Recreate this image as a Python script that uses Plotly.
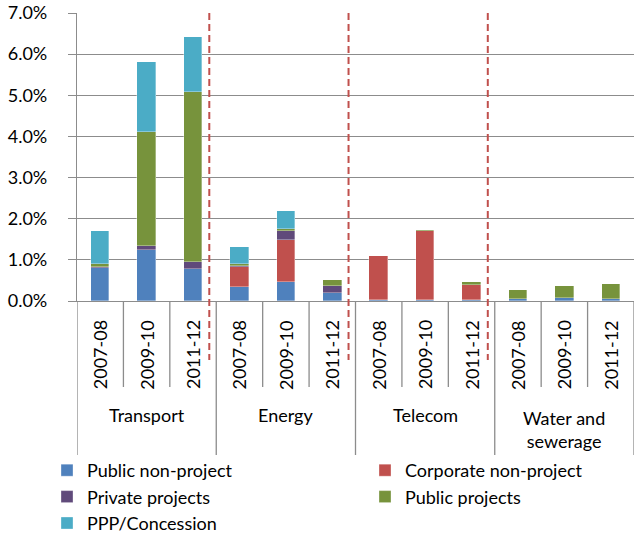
import plotly.graph_objects as go

sectors = ["Transport", "Energy", "Telecom", "Water and<br>sewerage"]
periods = ["2007-08", "2009-10", "2011-12"]

series_names = ["Public non-project", "Corporate non-project", "Private projects",
                "Public projects", "PPP/Concession"]
series_colors = ["#4F81BD", "#C0504D", "#604A7B", "#77933C", "#4BACC6"]
# which legend column each series appears in (left / right)
series_legend = ["legend", "legend2", "legend", "legend2", "legend"]

# values in percent, order: Transport(3), Energy(3), Telecom(3), Water(3)
public_non_project = [0.81, 1.24, 0.77, 0.33, 0.45, 0.19, 0.03, 0.03, 0.03, 0.06, 0.08, 0.04]
corporate_non_project = [0.00, 0.00, 0.00, 0.50, 1.03, 0.00, 1.06, 1.66, 0.36, 0.00, 0.00, 0.00]
private_projects = [0.01, 0.10, 0.19, 0.03, 0.22, 0.18, 0.00, 0.00, 0.00, 0.00, 0.00, 0.00]
public_projects = [0.09, 2.76, 4.11, 0.04, 0.05, 0.13, 0.00, 0.04, 0.06, 0.21, 0.28, 0.37]
ppp_concession = [0.79, 1.70, 1.35, 0.41, 0.43, 0.00, 0.00, 0.00, 0.00, 0.00, 0.00, 0.00]

series_values = [public_non_project, corporate_non_project, private_projects,
                 public_projects, ppp_concession]

y_ticks = [0, 1, 2, 3, 4, 5, 6, 7]

FONT = "Lato"
n_per = len(periods)
n_cat = len(sectors) * n_per
xpos = list(range(n_cat))

fig = go.Figure()
for name, color, vals, lg in zip(series_names, series_colors, series_values, series_legend):
    fig.add_trace(go.Bar(
        x=xpos, y=vals, name=name, width=0.4, legend=lg,
        marker=dict(color=color, line=dict(color="rgba(255,255,255,0.55)", width=0.6)),
    ))

GRID = "#8C8C8C"

shapes = []
annotations = []
# plot area: x 77..634, y 13..301 in page pixels
def py(pix):
    return (301 - pix) / 288.0

def px(pix):
    return (pix - 77) / 557.0

for g, sec in enumerate(sectors):
    center = g * n_per + (n_per - 1) / 2
    annotations.append(dict(
        x=center, y=py(415) if "<br>" not in sec else py(429),
        xref="x", yref="paper", text=sec, showarrow=False,
        font=dict(family=FONT, size=18, color="#000000"),
        xanchor="center", yanchor="middle"))
    for p, per in enumerate(periods):
        i = g * n_per + p
        annotations.append(dict(
            x=i, y=py(355), xref="x", yref="paper", text=per, showarrow=False,
            textangle=-90, font=dict(family=FONT, size=18, color="#000000"),
            xanchor="center", yanchor="middle"))
        if p > 0:
            shapes.append(dict(type="line", xref="x", yref="paper",
                               x0=i - 0.5, x1=i - 0.5, y0=0, y1=py(387),
                               line=dict(color=GRID, width=1.3)))
    shapes.append(dict(type="line", xref="x", yref="paper",
                       x0=g * n_per - 0.5, x1=g * n_per - 0.5, y0=0, y1=py(455),
                       line=dict(color=GRID, width=1.3)))
    if g > 0:
        shapes.append(dict(type="line", xref="x", yref="paper",
                           x0=g * n_per - 0.5 - 0.15, x1=g * n_per - 0.5 - 0.15,
                           y0=1, y1=py(360),
                           line=dict(color="#C0504D", width=2, dash="7px,4px")))
shapes.append(dict(type="line", xref="x", yref="paper",
                   x0=n_cat - 0.5, x1=n_cat - 0.5, y0=0, y1=py(455),
                   line=dict(color=GRID, width=1.3)))

legend_common = dict(orientation="v", yanchor="top", xanchor="left",
                     font=dict(family=FONT, size=18, color="#000000"),
                     traceorder="normal", bgcolor="rgba(0,0,0,0)",
                     tracegroupgap=0)

fig.update_layout(
    width=636, height=536,
    margin=dict(l=77, r=2, t=13, b=235, autoexpand=False),
    barmode="stack",
    plot_bgcolor="white", paper_bgcolor="white",
    font=dict(family=FONT, size=18, color="#000000"),
    showlegend=True,
    legend=dict(x=px(47), y=py(452), **legend_common),
    legend2=dict(x=px(365), y=py(452), **legend_common),
    shapes=shapes,
    annotations=annotations,
    bargap=0,
)
fig.update_xaxes(range=[-0.5, n_cat - 0.5], showticklabels=False, showgrid=False,
                 zeroline=False, showline=True, linecolor=GRID, linewidth=1.3,
                 ticks="", fixedrange=True)
fig.update_yaxes(range=[0, 7], tickvals=y_ticks, ticktext=[f"{v:.1f}%" for v in y_ticks],
                 showgrid=True, gridcolor=GRID, gridwidth=1.3, zeroline=False,
                 showline=True, linecolor=GRID, linewidth=1.3,
                 ticks="outside", ticklen=8, tickcolor=GRID, tickwidth=1.3,
                 ticklabelstandoff=17, ticklabeloverflow="allow",
                 tickfont=dict(family=FONT, size=18, color="#000000"))

fig.write_html("out.html",
               config={"displayModeBar": False},
               post_script="document.body.style.margin='0';"
                           "document.body.style.overflow='hidden';")
